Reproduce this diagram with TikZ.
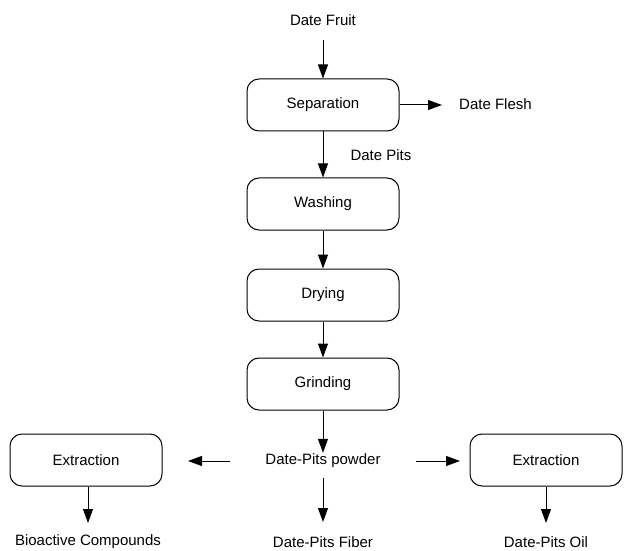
\documentclass[tikz,border=0pt]{standalone}
\usepackage{fontspec}
\setmainfont{Liberation Sans}
\usetikzlibrary{arrows.meta}
\begin{document}
\begin{tikzpicture}[x=1pt,y=-1pt,
  every node/.style={font=\fontsize{15}{18}\selectfont},
  procbox/.style={draw,line width=1pt,rounded corners=12pt,minimum width=152pt,minimum height=52pt,inner sep=0pt},
  lbl/.style={inner sep=1pt},
  flow/.style={line width=1pt,-{Triangle[length=14pt,width=10pt]}}]
\useasboundingbox (0,0) rectangle (625,551);
\node[lbl] (fruit) at (323,20) {Date Fruit};
\node[procbox] (sep) at (323,105) {Separation};
\node[lbl,anchor=west] (flesh) at (458,104) {Date Flesh};
\node[lbl] (pits) at (381,155) {Date Pits};
\node[procbox] (wash) at (323,204) {Washing};
\node[procbox] (dry) at (323,295) {Drying};
\node[procbox] (grind) at (323,384) {Grinding};
\node[lbl] (powder) at (323,461) {Date-Pits powder};
\node[procbox] (extl) at (86,460) {Extraction};
\node[procbox] (extr) at (546,460) {Extraction};
\node[lbl] (bio) at (88,542) {Bioactive Compounds};
\node[lbl] (fiber) at (323,542) {Date-Pits Fiber};
\node[lbl] (oil) at (546,542) {Date-Pits Oil};
\coordinate (fruitend) at (323,40);
\coordinate (fleshend) at (442,105);
\coordinate (leftstart) at (230,461);
\coordinate (leftend) at (188,461);
\coordinate (rightstart) at (416,461);
\coordinate (rightend) at (460,461);
\coordinate (fibstart) at (323,478);
\coordinate (fibend) at (323,522);
\coordinate (bioend) at (88,523);
\coordinate (oilend) at (546,523);
\draw[flow] (fruitend) -- (sep.north);
\draw[flow] (sep.east) -- (fleshend);
\draw[flow] (sep.south) -- (wash.north);
\draw[flow] (wash.south) -- (dry.north);
\draw[flow] (dry.south) -- (grind.north);
\draw[flow] (grind.south) -- (powder.north);
\draw[flow] (leftstart) -- (leftend);
\draw[flow] (rightstart) -- (rightend);
\draw[flow] (fibstart) -- (fibend);
\draw[flow] (extl.south -| bioend) -- (bioend);
\draw[flow] (extr.south) -- (oilend);
\end{tikzpicture}
\end{document}
